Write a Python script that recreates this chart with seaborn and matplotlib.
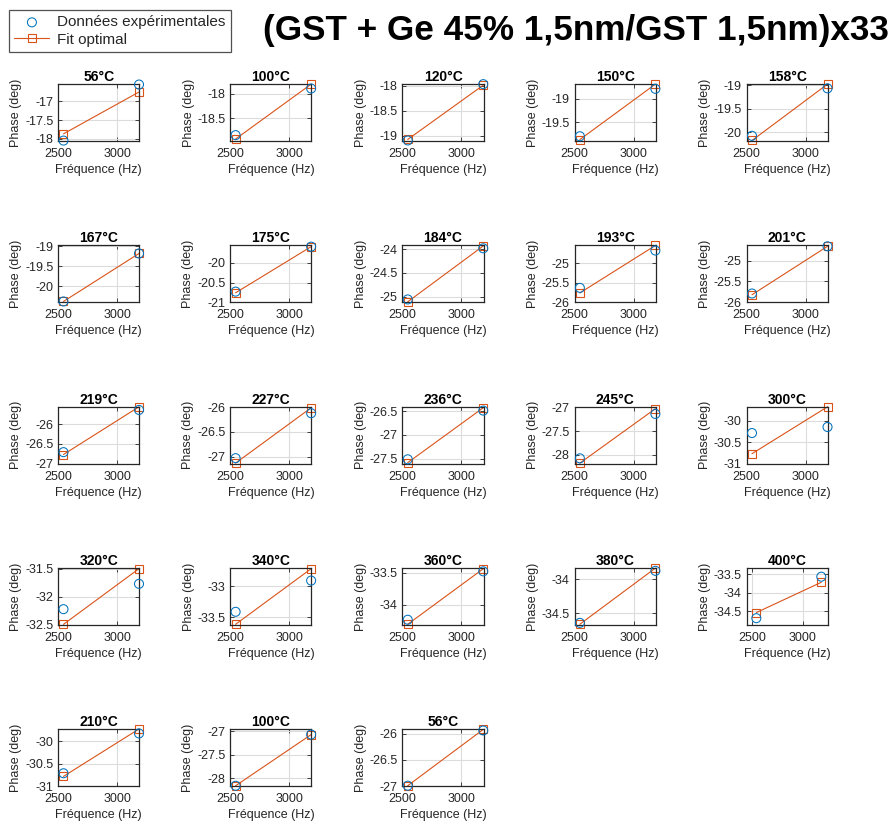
"""
Phase vs frequence, fit optimal par temperature
(GST + Ge 45% 1,5nm/GST 1,5nm)x33
"""

import numpy as np
import pandas as pd
import matplotlib
matplotlib.use("Agg")
import matplotlib.pyplot as plt
from matplotlib.ticker import MultipleLocator, FuncFormatter, FixedLocator
import seaborn as sns

# -----------------------------
# Data
# -----------------------------
TITLE = "(GST + Ge 45% 1,5nm/GST 1,5nm)x33"

temperatures = ["56°C", "100°C", "120°C", "150°C", "158°C",
                "167°C", "175°C", "184°C", "193°C", "201°C",
                "219°C", "227°C", "236°C", "245°C", "300°C",
                "320°C", "340°C", "360°C", "380°C", "400°C",
                "210°C", "100°C", "56°C"]

freq = [2545, 3185]

exp_phase = [
    [-18.05, -16.55], [-18.85, -17.89], [-19.09, -17.97], [-19.80, -18.79], [-20.08, -19.07],
    [-20.38, -19.18], [-20.73, -19.59], [-25.06, -23.98], [-25.63, -24.67], [-25.79, -24.66],
    [-26.71, -25.64], [-27.03, -26.12], [-27.51, -26.49], [-28.07, -27.14], [-30.29, -30.15],
    [-32.22, -31.77], [-33.41, -32.91], [-34.23, -33.48], [-34.64, -33.88], [-34.68, -33.57],
    [-30.71, -29.82], [-28.16, -27.07], [-26.99, -25.94],
]

fit_phase = [
    [-17.87, -16.75], [-18.93, -17.80], [-19.07, -17.99], [-19.87, -18.69], [-20.18, -18.98],
    [-20.38, -19.18], [-20.76, -19.59], [-25.11, -23.93], [-25.76, -24.54], [-25.82, -24.66],
    [-26.77, -25.56], [-27.13, -26.01], [-27.58, -26.43], [-28.17, -27.03], [-30.77, -29.68],
    [-32.49, -31.50], [-33.61, -32.72], [-34.30, -33.44], [-34.66, -33.84], [-34.53, -33.72],
    [-30.78, -29.72], [-28.16, -27.07], [-26.99, -25.92],
]

y_limits = [
    [-18.06, -16.54], [-18.97, -17.80], [-19.10, -17.97], [-19.90, -18.69], [-20.19, -18.98],
    [-20.40, -18.98], [-21.00, -19.56], [-25.12, -23.92], [-26.00, -24.54], [-26.00, -24.64],
    [-27.00, -25.56], [-27.14, -25.99], [-27.60, -26.41], [-28.18, -26.99], [-31.00, -29.68],
    [-32.50, -31.49], [-33.62, -32.71], [-34.31, -33.43], [-34.67, -33.84], [-34.86, -33.34],
    [-31.00, -29.73], [-28.17, -26.96], [-27.00, -25.92],
]

x_limits = [[2500, 3188]] * 19 + [[2450, 3250]] + [[2500, 3188]] * 3

BLUE = "#0072BD"
ORANGE = "#D95319"

# -----------------------------
# Style
# -----------------------------
sns.set_theme(style="ticks")
plt.rcParams["font.family"] = ["Liberation Sans", "DejaVu Sans"]
plt.rcParams["axes.unicode_minus"] = False
plt.rcParams["xtick.direction"] = "in"
plt.rcParams["ytick.direction"] = "in"

fig, axes = plt.subplots(5, 5, figsize=(8.95, 8.25), dpi=100)
fig.subplots_adjust(left=0.065, right=0.925, bottom=0.047, top=0.898,
                    wspace=1.12, hspace=1.84)

fmt = FuncFormatter(lambda v, _: f"{v:g}")

for i, ax in enumerate(axes.flat):
    if i >= len(temperatures):
        ax.set_visible(False)
        continue

    df = pd.DataFrame({
        "freq": freq,
        "exp": exp_phase[i],
        "fit": fit_phase[i],
    })

    sns.lineplot(data=df, x="freq", y="fit", ax=ax, color=ORANGE, lw=0.8,
                 marker="s", markersize=5.5, markerfacecolor="none",
                 markeredgecolor=ORANGE, markeredgewidth=0.8,
                 label="Fit optimal", zorder=2, clip_on=False)
    sns.scatterplot(data=df, x="freq", y="exp", ax=ax, marker="o", s=42,
                    facecolor="none", edgecolor=BLUE, linewidth=0.75,
                    label="Données expérimentales", zorder=3, clip_on=False)

    ax.set_xlim(x_limits[i])
    ax.set_ylim(y_limits[i])
    ax.xaxis.set_major_locator(FixedLocator([2500, 3000]))
    ax.yaxis.set_major_locator(MultipleLocator(0.5))
    ax.yaxis.set_major_formatter(fmt)

    ax.grid(True, color="#dcdcdc", lw=0.8)
    ax.set_axisbelow(True)
    ax.tick_params(axis="both", which="both", labelsize=9, length=3, width=0.6,
                   color="#262626", top=True, right=True)
    ax.tick_params(axis="x", pad=5)
    ax.tick_params(axis="y", pad=3.5)
    for sp in ax.spines.values():
        sp.set_color("#262626")
        sp.set_linewidth(0.9)

    ax.set_title(temperatures[i], fontsize=10, fontweight="bold", pad=2,
                 color="black")
    ax.set_xlabel("Fréquence (Hz)", fontsize=9, labelpad=3)
    ax.set_ylabel("Phase (deg)", fontsize=9, labelpad=2)

    if ax.get_legend() is not None:
        ax.get_legend().remove()

# Legend from the first panel (order: experimental, then fit)
handles, labels = axes.flat[0].get_legend_handles_labels()
order = [labels.index("Données expérimentales"), labels.index("Fit optimal")]
leg = fig.legend([handles[k] for k in order], [labels[k] for k in order],
                 loc="upper left", bbox_to_anchor=(9 / 895, 1 - 10 / 825),
                 fontsize=11, frameon=True, fancybox=False, borderpad=0.35,
                 handlelength=2.3, handletextpad=0.5, labelspacing=0.22,
                 borderaxespad=0)
leg.get_frame().set_edgecolor("#262626")
leg.get_frame().set_linewidth(0.9)

fig.text(0.643, 0.963, TITLE, ha="center", va="center",
         fontsize=25.3, fontweight="bold", color="black")

plt.savefig("out.png", dpi=100)
plt.close()
